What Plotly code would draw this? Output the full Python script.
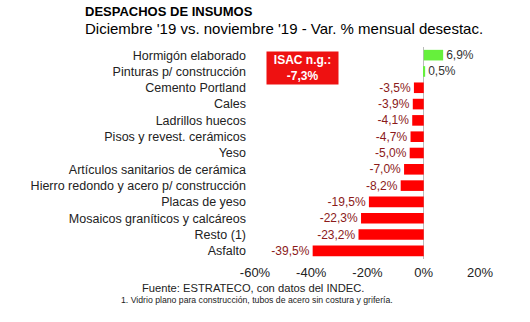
import plotly.graph_objects as go

categories = [
    "Hormigón elaborado",
    "Pinturas p/ construcción",
    "Cemento Portland",
    "Cales",
    "Ladrillos huecos",
    "Pisos y revest. cerámicos",
    "Yeso",
    "Artículos sanitarios de cerámica",
    "Hierro redondo y acero p/ construcción",
    "Placas de yeso",
    "Mosaicos graníticos y calcáreos",
    "Resto (1)",
    "Asfalto",
]
values = [6.9, 0.5, -3.5, -3.9, -4.1, -4.7, -5.0, -7.0, -8.2, -19.5, -22.3, -23.2, -39.5]
tick_vals = [-60, -40, -20, 0, 20]
tick_text = ["-60%", "-40%", "-20%", "0%", "20%"]

title = "<b>DESPACHOS DE INSUMOS</b>"
subtitle = "Diciembre '19 vs. noviembre '19 - Var. % mensual desestac."
isac_text = "<b>ISAC n.g.:<br>-7,3%</b>"
source = "Fuente: ESTRATECO, con datos del INDEC."
note = "1. Vidrio plano para construcción, tubos de acero sin costura y grifería."

colors = ["#66F03C" if v >= 0 else "#FF0000" for v in values]
text_colors = ["#333333" if v >= 0 else "#8B1A1A" for v in values]
labels = [f"{v:.1f}%".replace(".", ",") for v in values]

T, B, L, R = 47, 63, 255, 50
PW, PH = 530 - L - R, 322 - T - B

fig = go.Figure(go.Bar(
    x=values, y=categories, orientation="h",
    marker=dict(color=colors, line=dict(width=0)),
    text=labels, textposition="outside", constraintext="none",
    textfont=dict(color=text_colors, size=12, family="Liberation Sans, Arial"),
    cliponaxis=False, width=0.65,
))

fig.update_layout(
    width=530, height=322,
    margin=dict(l=L, r=R, t=T, b=B),
    plot_bgcolor="white", paper_bgcolor="white",
    font=dict(family="Liberation Sans, Arial", color="#222222", size=12),
    showlegend=False,
    xaxis=dict(range=[-60, 20], tickvals=tick_vals, ticktext=tick_text,
               showgrid=False, zeroline=True, zerolinecolor="#BBBBBB", zerolinewidth=1,
               tickfont=dict(size=13, color="#222222"), ticks="", showline=False,
               ticklabelstandoff=4),
    yaxis=dict(categoryorder="array", categoryarray=categories[::-1],
               showgrid=False, ticks="", ticklabelstandoff=8,
               tickfont=dict(size=12.5, color="#222222")),
)

def px(x):
    return (x - L) / PW

def py(y):
    return 1 - (y - T) / PH

fig.add_annotation(text=title, xref="paper", yref="paper", x=px(83), y=py(2),
                   xanchor="left", yanchor="top", showarrow=False,
                   font=dict(size=13, color="black"))
fig.add_annotation(text=subtitle, xref="paper", yref="paper", x=px(83), y=py(18),
                   xanchor="left", yanchor="top", showarrow=False,
                   font=dict(size=15, color="black"))
fig.add_annotation(text=isac_text, xref="paper", yref="paper", x=px(302), y=py(68),
                   xanchor="center", yanchor="middle", showarrow=False,
                   bgcolor="#EE1111", width=69, height=30,
                   font=dict(size=12, color="white"))
fig.add_annotation(text=source, xref="paper", yref="paper", x=px(253), y=py(288),
                   xanchor="center", yanchor="middle", showarrow=False,
                   font=dict(size=11.2, color="#222222"))
fig.add_annotation(text=note, xref="paper", yref="paper", x=px(257), y=py(300),
                   xanchor="center", yanchor="middle", showarrow=False,
                   font=dict(size=8.7, color="#222222"))

fig.write_html("out.html")
